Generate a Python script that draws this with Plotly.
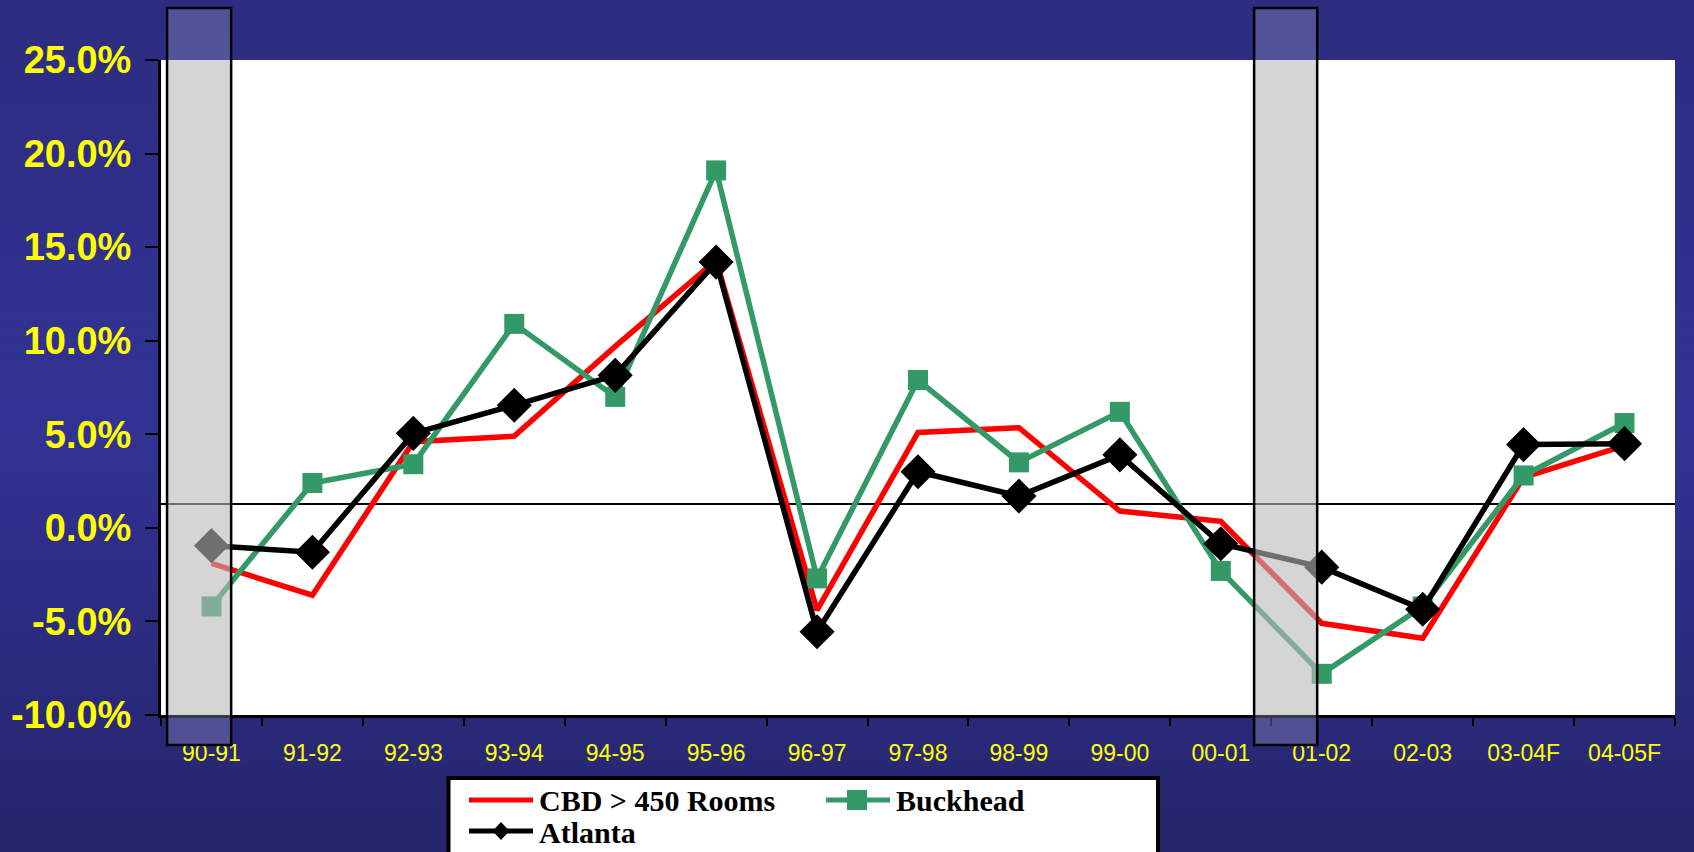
import plotly.graph_objects as go

# Year-over-year change by market
periods = ["90-91", "91-92", "92-93", "93-94", "94-95", "95-96", "96-97", "97-98",
           "98-99", "99-00", "00-01", "01-02", "02-03", "03-04F", "04-05F"]
cbd_450 = [-1.9, -3.6, 4.6, 4.9, 9.7, 14.3, -4.4, 5.1, 5.35, 0.9, 0.35, -5.1, -5.9, 2.7, 4.4]
buckhead = [-4.2, 2.4, 3.4, 10.9, 7.0, 19.1, -2.7, 7.9, 3.5, 6.2, -2.3, -7.8, -4.2, 2.8, 5.6]
atlanta = [-0.95, -1.3, 5.05, 6.55, 8.15, 14.2, -5.55, 3.0, 1.7, 3.9, -0.85, -2.1, -4.35, 4.45, 4.5]
long_run_avg = 1.27
y_ticks = [-10, -5, 0, 5, 10, 15, 20, 25]
y_ticktext = [f"{v:.1f}%" for v in y_ticks]

RED = "#ff0000"
GREEN = "#339966"
BLACK = "#000000"
YELLOW = "#ffff00"

W, H = 1694, 852
M_L, M_R, M_T, M_B = 161, 19, 60, 137
PW, PH = W - M_L - M_R, H - M_T - M_B


def px_x(p):
    return (p - M_L) / PW


def px_y(p):
    return (H - M_B - p) / PH


def pct(vals):
    return [v / 100 for v in vals]


fig = go.Figure()
fig.add_trace(go.Scatter(x=periods, y=pct(cbd_450), name="CBD > 450 Rooms", mode="lines",
                         line=dict(color=RED, width=5.5)))
fig.add_trace(go.Scatter(x=periods, y=pct(buckhead), name="Buckhead", mode="lines+markers",
                         line=dict(color=GREEN, width=5.5),
                         marker=dict(symbol="square", size=20, color=GREEN)))
fig.add_trace(go.Scatter(x=periods, y=pct(atlanta), name="Atlanta", mode="lines+markers",
                         line=dict(color=BLACK, width=5.5),
                         marker=dict(symbol="diamond", size=27, color=BLACK)))

shapes = []

# navy gradient backdrop
stops = [(0, (44, 44, 128)), (420, (50, 50, 148)), (852, (37, 37, 108))]
n = 50
for i in range(n):
    p0 = H * i / n
    p1 = H * (i + 1) / n
    pm = (p0 + p1) / 2
    for (a, ca), (b, cb) in zip(stops[:-1], stops[1:]):
        if a <= pm <= b:
            t = (pm - a) / (b - a)
            c = [round(ca[k] + (cb[k] - ca[k]) * t) for k in range(3)]
            break
    shapes.append(dict(type="rect", xref="paper", yref="paper", layer="below",
                       x0=px_x(-5), x1=px_x(W + 5), y0=px_y(p1 + 2), y1=px_y(p0),
                       fillcolor=f"rgb({c[0]},{c[1]},{c[2]})", line=dict(width=0)))

# white plotting area
shapes.append(dict(type="rect", xref="paper", yref="paper", layer="below",
                   x0=0, x1=1, y0=0, y1=1, fillcolor="white", line=dict(width=0)))

# long-run average reference line
shapes.append(dict(type="line", xref="paper", yref="y", layer="below",
                   x0=0, x1=1, y0=long_run_avg / 100, y1=long_run_avg / 100,
                   line=dict(color=BLACK, width=2)))

# recession bands
for x0, x1 in [(-0.44, 0.195), (10.33, 10.955)]:
    for y0, y1, col, op in [(0, 1, "rgb(185,185,185)", 0.6),
                            (1, px_y(8), "rgb(140,140,190)", 0.4),
                            (px_y(745), 0, "rgb(140,140,190)", 0.4)]:
        shapes.append(dict(type="rect", xref="x", yref="paper", layer="above",
                           x0=x0, x1=x1, y0=y0, y1=y1, fillcolor=col, opacity=op,
                           line=dict(width=0)))
    shapes.append(dict(type="rect", xref="x", yref="paper", layer="above",
                       x0=x0, x1=x1, y0=px_y(745), y1=px_y(8),
                       line=dict(color=BLACK, width=2.5)))

# legend box and keys
shapes.append(dict(type="rect", xref="paper", yref="paper", layer="above",
                   x0=px_x(448.5), x1=px_x(1158), y0=px_y(880), y1=px_y(778),
                   fillcolor="white", line=dict(color=BLACK, width=4)))
shapes.append(dict(type="line", xref="paper", yref="paper", layer="above",
                   x0=px_x(469), x1=px_x(533), y0=px_y(800), y1=px_y(800),
                   line=dict(color=RED, width=5)))
shapes.append(dict(type="line", xref="paper", yref="paper", layer="above",
                   x0=px_x(826), x1=px_x(890), y0=px_y(800), y1=px_y(800),
                   line=dict(color=GREEN, width=5)))
shapes.append(dict(type="rect", xref="paper", yref="paper", layer="above",
                   x0=px_x(847), x1=px_x(867), y0=px_y(810), y1=px_y(790),
                   fillcolor=GREEN, line=dict(width=0)))
shapes.append(dict(type="line", xref="paper", yref="paper", layer="above",
                   x0=px_x(469), x1=px_x(533), y0=px_y(831), y1=px_y(831),
                   line=dict(color=BLACK, width=5)))
cx, cy, hw, hh = 501, 831, 8.5, 9
shapes.append(dict(type="path", xref="paper", yref="paper", layer="above",
                   path=(f"M{px_x(cx - hw)},{px_y(cy)} L{px_x(cx)},{px_y(cy - hh)} "
                         f"L{px_x(cx + hw)},{px_y(cy)} L{px_x(cx)},{px_y(cy + hh)} Z"),
                   fillcolor=BLACK, line=dict(width=0)))

legend_font = dict(family="Liberation Serif", size=30, color=BLACK, weight="bold")
legend_items = [("CBD &gt; 450 Rooms", 538, 800), ("Buckhead", 895, 800), ("Atlanta", 538, 832)]
annotations = [
    dict(text=txt, x=px_x(lx), y=px_y(ly), xref="paper", yref="paper",
         xanchor="left", yanchor="middle", showarrow=False, font=legend_font,
         borderpad=0)
    for txt, lx, ly in legend_items
]

fig.update_layout(
    width=W, height=H,
    margin=dict(l=M_L, r=M_R, t=M_T, b=M_B, pad=0, autoexpand=False),
    paper_bgcolor="rgb(44,44,128)",
    plot_bgcolor="white",
    showlegend=False,
    shapes=shapes,
    annotations=annotations,
    xaxis=dict(
        type="category", categoryorder="array", categoryarray=periods,
        range=[-0.5, len(periods) - 0.5], automargin=False,
        tickson="boundaries", ticks="outside", ticklen=8, tickwidth=2, tickcolor=BLACK,
        showline=True, linecolor=BLACK, linewidth=3, showgrid=False, zeroline=False,
        tickfont=dict(family="Liberation Sans", size=23, color=YELLOW),
        ticklabelstandoff=15,
    ),
    yaxis=dict(
        range=[-0.10, 0.25], automargin=False,
        tickvals=[v / 100 for v in y_ticks], ticktext=y_ticktext,
        ticks="outside", ticklen=13, tickwidth=2, tickcolor=BLACK,
        showline=True, linecolor=BLACK, linewidth=3, showgrid=False, zeroline=False,
        tickfont=dict(family="Liberation Sans", size=38, color=YELLOW, weight="bold"),
        ticklabelstandoff=6,
    ),
)

fig.write_html("out.html")
